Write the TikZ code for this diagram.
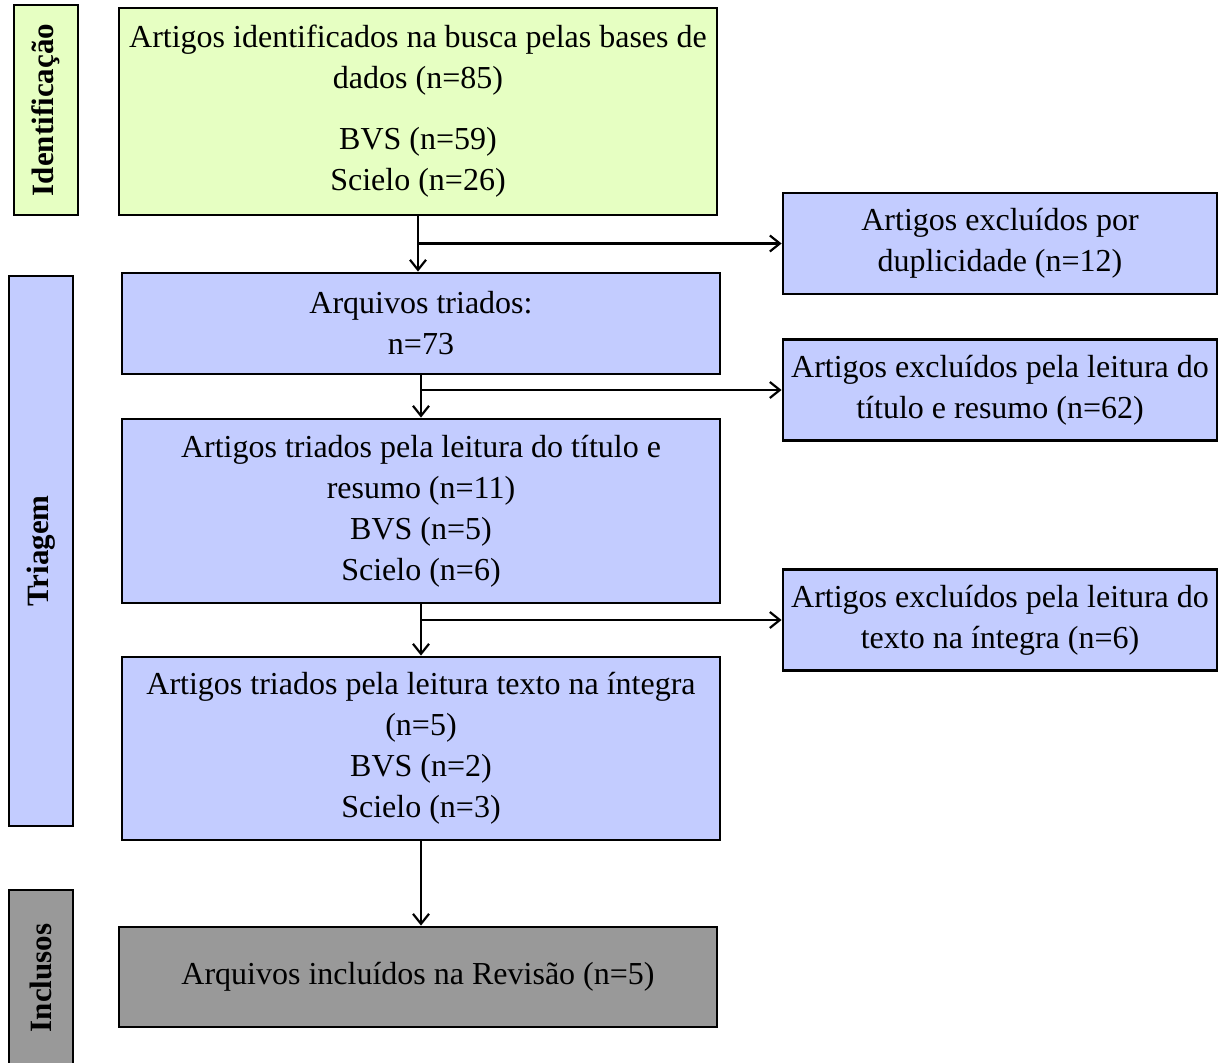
\documentclass[tikz,border=0pt]{standalone}
\usepackage{fontspec}
\setmainfont{Liberation Serif}
\usetikzlibrary{arrows.meta,calc}
\tikzset{>={Straight Barb[length=5pt,width=8pt]}}

\definecolor{idgreen}{HTML}{E6FFC2}
\definecolor{trblue}{HTML}{C3CCFF}
\definecolor{incgray}{HTML}{999999}

\tikzset{
  box/.style={draw=black, line width=1.4pt, align=center, inner sep=0pt,
    minimum width=299pt, font=\fontsize{16}{20.5}\selectfont},
  greenbox/.style={box, fill=idgreen},
  bluebox/.style={box, fill=trblue},
  graybox/.style={box, fill=incgray},
  exclbox/.style={box, fill=trblue, minimum width=217pt, minimum height=50.5pt},
  phase/.style={draw=black, line width=1.4pt, inner sep=0pt, rotate=90,
    minimum height=32pt, font=\fontsize{15.5}{18}\selectfont\bfseries},
}

\begin{document}
\begin{tikzpicture}[x=0.5pt,y=-0.5pt]
\useasboundingbox (0,0) rectangle (1224,1063);
% fases
\node[phase, fill=idgreen, minimum width=105pt] (ident) at (46,110) {Identificação};
\node[phase, fill=trblue, minimum width=275pt] (triagem) at (41,551) {Triagem};
\node[phase, fill=incgray, minimum width=88pt] (inclusos) at (41,978) {Inclusos};

% caixas principais
\node[greenbox, minimum height=103.5pt] (busca) at (418,111.5)
  {Artigos identificados na busca pelas bases de\\ dados (n=85)\\[10pt] BVS (n=59)\\ Scielo (n=26)};
\node[bluebox, minimum height=50.5pt] (triados) at (421,323.5) {Arquivos triados:\\ n=73};
\node[bluebox, minimum height=92pt] (titulo) at (421,511)
  {Artigos triados pela leitura do título e\\ resumo (n=11)\\ BVS (n=5)\\ Scielo (n=6)};
\node[bluebox, minimum height=91.5pt] (integra) at (421,748.5)
  {Artigos triados pela leitura texto na íntegra\\ (n=5)\\ BVS (n=2)\\ Scielo (n=3)};
\node[graybox, minimum height=50pt] (incluidos) at (418,977) {Arquivos incluídos na Revisão (n=5)};

% excluidos
\node[exclbox] (dupl) at (1000,243.5) {Artigos excluídos por\\ duplicidade (n=12)};
\node[exclbox] (exresumo) at (1000,390) {Artigos excluídos pela leitura do\\ título e resumo (n=62)};
\node[exclbox] (exintegra) at (1000,620) {Artigos excluídos pela leitura do\\ texto na íntegra (n=6)};

% setas
\draw[->, line width=1.1pt] (busca.south) -- (busca.south |- triados.north);
\draw[->, line width=1.1pt] (busca.south |- dupl.west) -- (dupl.west);
\draw[->, line width=1.1pt] (triados.south) -- (titulo.north);
\draw[->, line width=1.1pt] (triados.south |- exresumo.west) -- (exresumo.west);
\draw[->, line width=1.1pt] (titulo.south) -- (integra.north);
\draw[->, line width=1.1pt] (titulo.south |- exintegra.west) -- (exintegra.west);
\draw[->, line width=1.1pt] (integra.south) -- (integra.south |- incluidos.north);
\end{tikzpicture}
\end{document}
